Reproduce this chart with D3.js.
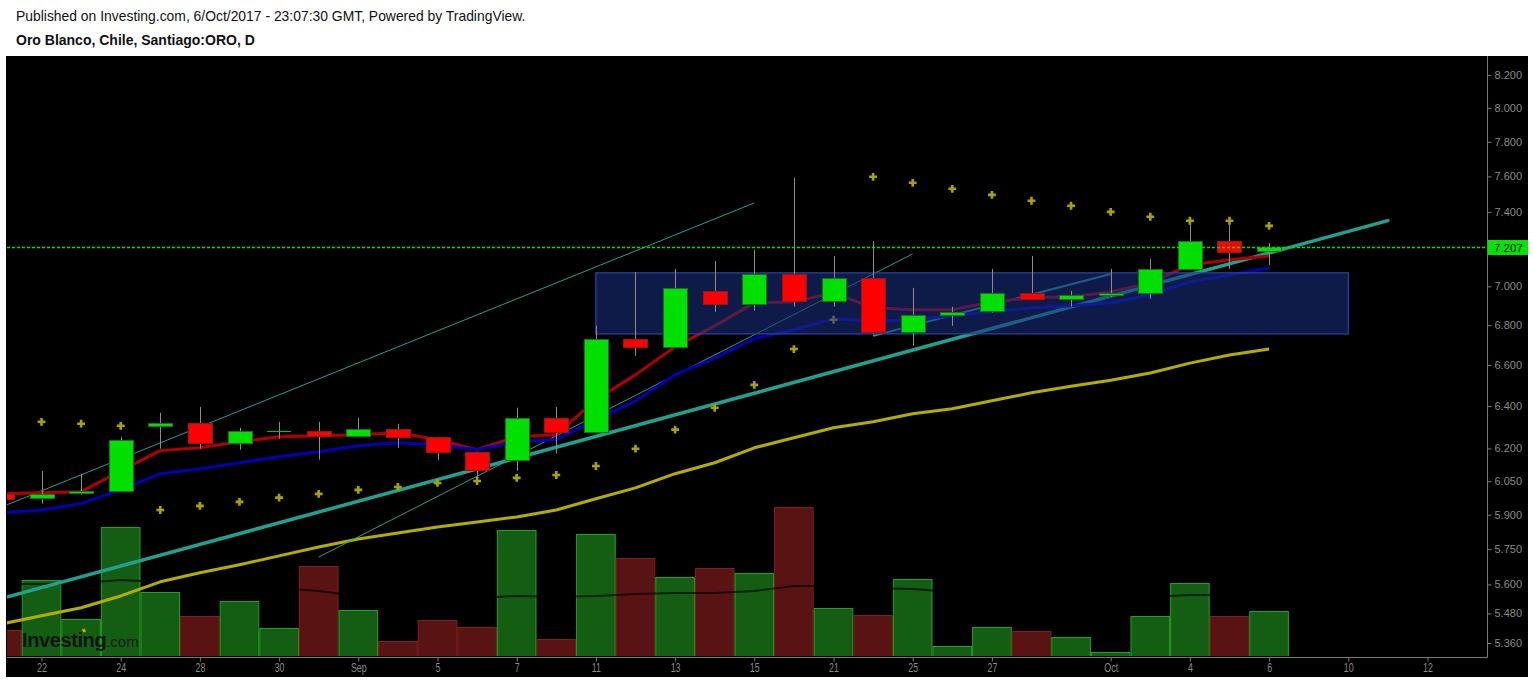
<!DOCTYPE html>
<html>
<head>
<meta charset="utf-8">
<script src="https://cdn.jsdelivr.net/npm/d3@7"></script>
<style>
  html, body { margin: 0; padding: 0; background: #ffffff; overflow: hidden; }
  #wrap { position: relative; width: 1533px; height: 681px; }
  svg { display: block; }
</style>
</head>
<body>
<div id="wrap"></div>
<script>
// ---------------- DATA (k = 0 is Aug 21, a partially visible bar) ----------------
const dates = ["Aug 21","Aug 22","Aug 23","Aug 24","Aug 25","Aug 28","Aug 29","Aug 30","Aug 31","Sep 1",
  "Sep 4","Sep 5","Sep 6","Sep 7","Sep 8","Sep 11","Sep 12","Sep 13","Sep 14","Sep 15",
  "Sep 20","Sep 21","Sep 22","Sep 25","Sep 26","Sep 27","Sep 28","Sep 29","Oct 2","Oct 3",
  "Oct 4","Oct 5","Oct 6"];
const open  = [5.993,5.976,5.998,6.007,6.306,6.320,6.227,6.283,6.283,6.259,6.292,6.255,6.185,6.148,6.344,6.278,6.731,6.690,6.976,6.909,7.065,6.925,7.044,6.766,6.853,6.873,6.966,6.935,6.956,6.966,7.092,7.242,7.183];
const high  = [5.998,6.097,6.084,6.255,6.368,6.396,6.297,6.325,6.325,6.344,6.316,6.255,6.185,6.392,6.396,6.796,7.076,7.092,7.134,7.194,7.592,7.161,7.242,6.992,6.894,7.092,7.161,6.976,7.092,7.145,7.340,7.340,7.231];
const low   = [5.967,5.949,5.989,6.007,6.199,6.199,6.194,6.245,6.148,6.259,6.203,6.148,6.057,6.097,6.176,6.278,6.645,6.690,6.868,6.873,6.894,6.894,6.756,6.695,6.796,6.863,6.935,6.894,6.945,6.935,7.092,7.092,7.113];
const close = [5.971,5.993,6.007,6.241,6.320,6.227,6.283,6.283,6.259,6.292,6.255,6.185,6.102,6.344,6.278,6.731,6.690,6.992,6.909,7.065,6.925,7.044,6.766,6.853,6.868,6.966,6.935,6.956,6.966,7.092,7.242,7.183,7.207];
const volume = [520,1520,740,2580,1280,800,1100,560,1800,920,300,720,580,2520,340,2440,1960,1580,1760,1660,2980,960,820,1540,200,580,500,380,80,800,1460,800,900];
const volumeMA = [1440,1440,1460,1520,1480,1420,1380,1360,1300,1200,1180,1160,1160,1200,1180,1200,1240,1260,1260,1300,1400,1400,1360,1340,1280,1260,1240,1200,1180,1180,1220,1220,1220];
const emaFast = [5.993,5.998,6.002,6.097,6.190,6.203,6.231,6.255,6.259,6.264,6.273,6.241,6.194,6.255,6.264,6.430,6.551,6.690,6.796,6.914,6.919,6.966,6.888,6.878,6.878,6.919,6.940,6.945,6.971,7.018,7.113,7.140,7.161];
const emaSlow = [5.908,5.921,5.949,6.011,6.084,6.106,6.134,6.162,6.185,6.213,6.227,6.218,6.194,6.231,6.241,6.334,6.425,6.551,6.634,6.731,6.776,6.832,6.821,6.827,6.847,6.868,6.888,6.899,6.914,6.956,7.023,7.060,7.097];
const smaLong = [5.437,5.470,5.503,5.552,5.611,5.649,5.683,5.721,5.759,5.794,5.820,5.846,5.868,5.890,5.921,5.971,6.020,6.084,6.134,6.203,6.250,6.297,6.325,6.363,6.387,6.425,6.464,6.496,6.525,6.560,6.609,6.649,6.679];
const sar = [null,6.325,6.316,6.306,5.921,5.939,5.957,5.976,5.993,6.011,6.024,6.042,6.051,6.065,6.078,6.119,6.199,6.288,6.392,6.502,6.679,6.827,7.598,7.564,7.530,7.496,7.463,7.435,7.401,7.374,7.352,7.352,7.324];
// drawn objects: [k, price] endpoints
const trendMain = [[0,5.542],[35,7.353]];
const thinLines = [
  {pts:[[0,5.935],[19,7.451]], w:1},
  {pts:[[8,5.716],[23,7.172]], w:1},
  {pts:[[22,6.745],[28,7.065]], w:2}
];
const zoneBox = {k0:15, k1:34, p0:6.755, p1:7.071};
const lastPrice = 7.207;
const priceTicks = [8.2,8.0,7.8,7.6,7.4,7.0,6.8,6.6,6.4,6.2,6.05,5.9,5.75,5.6,5.48,5.36];
const timeTickK = [1,3,5,7,9,11,13,15,17,19,21,23,25,28,30,32,34,36];
const timeTickLabels = ["22","24","28","30","Sep","5","7","11","13","15","21","25","27","Oct","4","6","10","12"];
const headerLine = "Published on Investing.com, 6/Oct/2017 - 23:07:30 GMT, Powered by TradingView.";
const titleLine = "Oro Blanco, Chile, Santiago:ORO, D";

// ---------------- LAYOUT ----------------
const W = 1533, H = 681;
const plot = {x0: 7, x1: 1487, y0: 56, y1: 657};
const svg = d3.select("#wrap").append("svg").attr("width", W).attr("height", H);
svg.append("rect").attr("width", W).attr("height", H).attr("fill", "#ffffff");

svg.append("text").attr("x", 16).attr("y", 21).attr("font-family", "Liberation Sans, Arial, sans-serif")
  .attr("font-size", 13.9).attr("fill", "#111").text(headerLine);
svg.append("text").attr("x", 16).attr("y", 45).attr("font-family", "Liberation Sans, Arial, sans-serif")
  .attr("font-size", 14).attr("font-weight", "bold").attr("fill", "#111").text(titleLine);

svg.append("rect").attr("x", 6).attr("y", 56).attr("width", 1522).attr("height", 621).attr("fill", "#000");

const x = d3.scaleLinear().domain([1, 36]).range([41.5, 1427.5]);
const y = d3.scaleLog().domain([5.308, 8.317]).range([656, 56]);
const yv = d3.scaleLinear().domain([0, 6000]).range([656, 356]);
const bw = 39.6;
const ly = Math.round(y(lastPrice));

const defs = svg.append("defs");
defs.append("clipPath").attr("id", "clip").append("rect")
  .attr("x", plot.x0).attr("y", plot.y0).attr("width", plot.x1 - plot.x0).attr("height", plot.y1 - plot.y0 - 1);

const g = svg.append("g").attr("clip-path", "url(#clip)");
const idx = d3.range(dates.length);

// volume
g.append("g").selectAll("rect").data(idx).join("rect")
  .attr("x", k => x(k) - bw / 2 + 0.5).attr("width", bw - 1)
  .attr("y", k => yv(volume[k]) + 0.5).attr("height", k => yv(0) - yv(volume[k]))
  .attr("fill", k => close[k] >= open[k] ? "#135e13" : "#5a1313")
  .attr("stroke", k => close[k] >= open[k] ? "#23a023" : "#821e1e").attr("stroke-width", 1);
g.append("path").datum(idx).attr("fill", "none").attr("stroke", "rgba(0,0,0,0.65)").attr("stroke-width", 2)
  .attr("d", d3.line().x(k => x(k)).y(k => yv(volumeMA[k])));

const lineOf = arr => d3.line().defined(k => arr[k] != null).x(k => x(k)).y(k => y(arr[k]));
// long SMA
g.append("path").datum(idx).attr("fill", "none").attr("stroke", "#b3ad00").attr("stroke-width", 3)
  .attr("stroke-linejoin", "round").attr("d", lineOf(smaLong));
// thick trend line
g.append("line").attr("x1", x(trendMain[0][0])).attr("y1", y(trendMain[0][1]))
  .attr("x2", x(trendMain[1][0])).attr("y2", y(trendMain[1][1]))
  .attr("stroke", "#22a08f").attr("stroke-width", 3.5).attr("stroke-linecap", "round");
// thin lines
thinLines.forEach(t => {
  g.append("line").attr("x1", x(t.pts[0][0])).attr("y1", y(t.pts[0][1]))
    .attr("x2", x(t.pts[1][0])).attr("y2", y(t.pts[1][1]))
    .attr("stroke", "#22a08f").attr("stroke-width", t.w);
});
// EMAs
g.append("path").datum(idx).attr("fill", "none").attr("stroke", "#b00000").attr("stroke-width", 3)
  .attr("stroke-linejoin", "round").attr("d", lineOf(emaFast));
g.append("path").datum(idx).attr("fill", "none").attr("stroke", "#0000b4").attr("stroke-width", 3)
  .attr("stroke-linejoin", "round").attr("d", lineOf(emaSlow));
// SAR crosses
g.append("g").selectAll("path").data(idx.filter(k => sar[k] != null)).join("path")
  .attr("transform", k => `translate(${x(k)},${y(sar[k])})`)
  .attr("d", d3.symbol(d3.symbolCross, 34)).attr("fill", "#aaa400");
// zone box
g.append("rect").attr("x", x(zoneBox.k0)).attr("y", y(zoneBox.p1))
  .attr("width", x(zoneBox.k1) - x(zoneBox.k0)).attr("height", y(zoneBox.p0) - y(zoneBox.p1))
  .attr("fill", "rgb(25,46,126)").attr("fill-opacity", 0.57)
  .attr("stroke", "#2a44a8").attr("stroke-width", 1.2);
// candles
const cw = 24;
const cg = g.append("g");
cg.selectAll("line.wick").data(idx).join("line").attr("class", "wick")
  .attr("x1", k => Math.round(x(k)) + 0.5).attr("x2", k => Math.round(x(k)) + 0.5)
  .attr("y1", k => y(high[k])).attr("y2", k => y(low[k]))
  .attr("stroke", "#8c8c8c").attr("stroke-width", 1);
cg.selectAll("rect.body").data(idx.filter(k => open[k] !== close[k])).join("rect").attr("class", "body")
  .attr("x", k => Math.round(x(k) - cw / 2) + 0.5).attr("width", cw)
  .attr("y", k => Math.round(y(Math.max(open[k], close[k]))) + 0.5)
  .attr("height", k => Math.max(2, Math.round(y(Math.min(open[k], close[k])) - y(Math.max(open[k], close[k])))))
  .attr("fill", k => close[k] > open[k] ? "#00e000" : "#ff0000")
  .attr("stroke", k => close[k] > open[k] ? "#1c6e1c" : "#8b1a1a").attr("stroke-width", 1);
cg.selectAll("line.doji").data(idx.filter(k => open[k] === close[k])).join("line").attr("class", "doji")
  .attr("x1", k => x(k) - cw / 2).attr("x2", k => x(k) + cw / 2)
  .attr("y1", k => Math.round(y(open[k])) + 0.5).attr("y2", k => Math.round(y(open[k])) + 0.5)
  .attr("stroke", "#00c800").attr("stroke-width", 1);
// last price dashed line
svg.append("line").attr("x1", plot.x0).attr("x2", plot.x1)
  .attr("y1", ly + 0.5).attr("y2", ly + 0.5)
  .style("stroke", "#00e000").style("stroke-width", "1.3px").style("stroke-dasharray", "3,2");

// logo
const logo = svg.append("text").attr("x", 22).attr("y", 647).attr("font-family", "Liberation Sans, Arial, sans-serif");
logo.append("tspan").attr("font-size", 20).attr("font-weight", "bold").attr("fill", "#111").attr("letter-spacing", -0.4).text("Investing");
logo.append("tspan").attr("font-size", 15).attr("fill", "#1c1c1c").text(".com");
svg.append("rect").attr("x", 82.5).attr("y", 629).attr("width", 3).attr("height", 3)
  .attr("transform", "rotate(-20,84,630.5)").attr("fill", "#f0a000");

// axes
const axisCol = "#7a7a7a";
svg.append("line").attr("x1", plot.x1 + 0.5).attr("x2", plot.x1 + 0.5).attr("y1", plot.y0).attr("y2", plot.y1 + 0.5)
  .attr("stroke", axisCol);
svg.append("line").attr("x1", plot.x0).attr("x2", plot.x1 + 0.5).attr("y1", plot.y1 + 0.5).attr("y2", plot.y1 + 0.5)
  .attr("stroke", axisCol);

const ra = svg.append("g").attr("transform", `translate(${plot.x1 + 0.5},0)`)
  .call(d3.axisRight(y).tickValues(priceTicks).tickFormat(d3.format(".3f")).tickSize(4).tickPadding(3));
ra.select(".domain").remove();
ra.selectAll("line").attr("stroke", axisCol);
ra.selectAll("text").attr("fill", "#8a8a8a").attr("font-size", 11).attr("font-family", "Liberation Sans, Arial, sans-serif");

const ba = svg.append("g").attr("transform", `translate(0,${plot.y1 + 0.5})`)
  .call(d3.axisBottom(x).tickValues(timeTickK).tickFormat((d, i) => timeTickLabels[i]).tickSize(4).tickPadding(2));
ba.select(".domain").remove();
ba.selectAll("line").attr("stroke", axisCol);
ba.selectAll("text").attr("fill", "#8a8a8a").attr("font-size", 12).attr("font-family", "Liberation Sans, Arial, sans-serif")
  .attr("transform", "scale(0.74,1)");

// last price label (green tag on the price scale)
const tag = svg.append("g").attr("transform", `translate(${plot.x1 + 1},${ly - 7})`);
tag.append("path").attr("d", "M0,0H40V15H0Z").attr("fill", "#00e600");
tag.append("text").attr("x", 6).attr("y", 12).attr("font-size", 11.5)
  .attr("font-family", "Liberation Sans, Arial, sans-serif").attr("fill", "#000").text(d3.format(".3f")(lastPrice));
</script>
</body>
</html>
